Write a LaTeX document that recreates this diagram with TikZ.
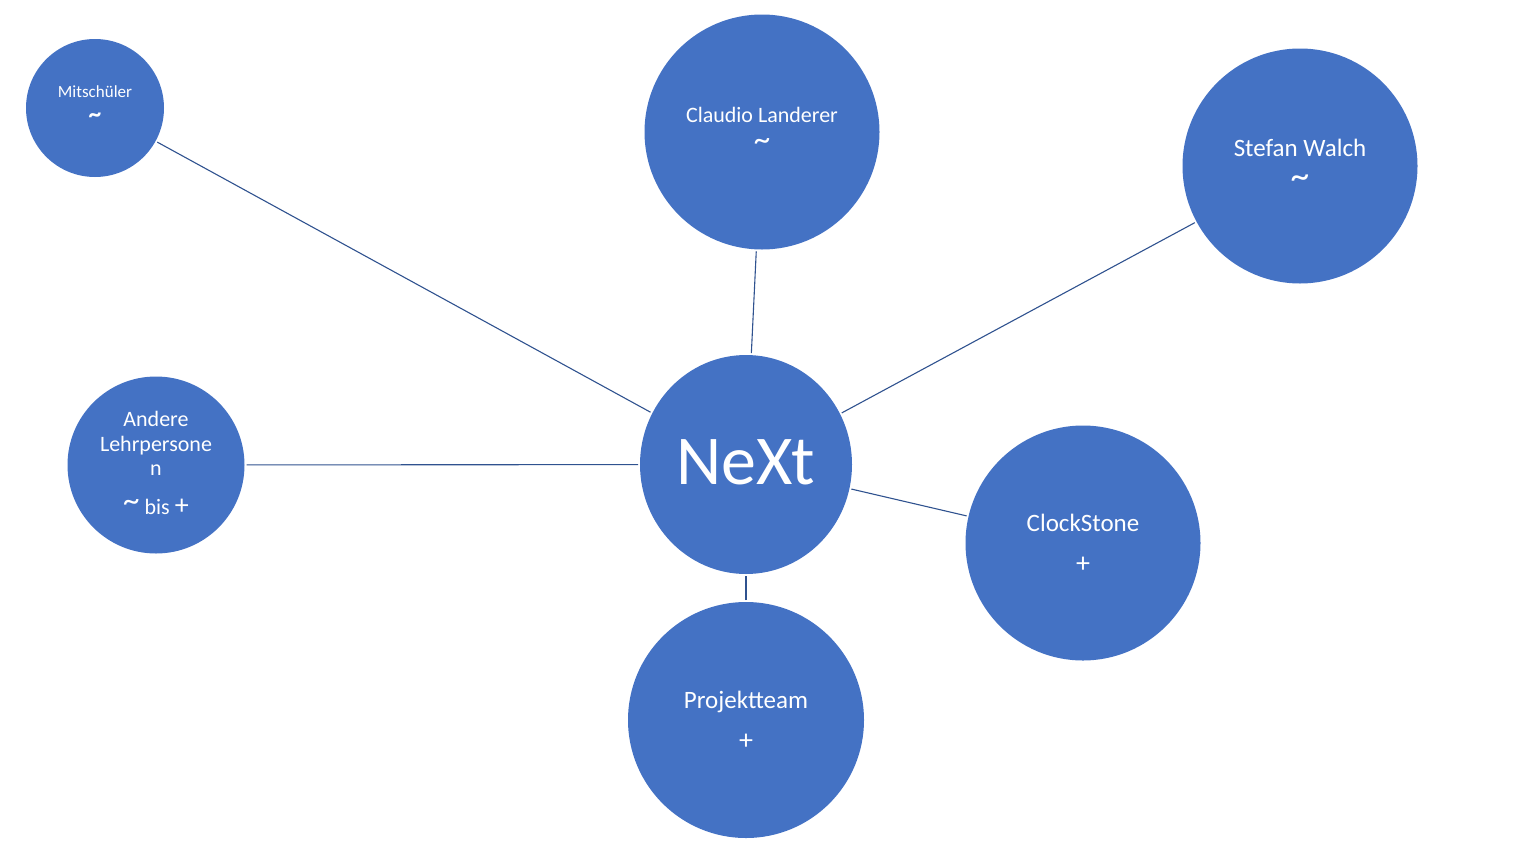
\documentclass[tikz,border=0pt]{standalone}
\usepackage{fontspec}
\setmainfont{Carlito}
\usepackage{tikz}
\usetikzlibrary{positioning,calc,shapes.geometric}
\definecolor{bubble}{HTML}{4472C4}
\definecolor{linkcol}{HTML}{2F528F}
\tikzset{
    person/.style = {
        shape=circle,
        fill=bubble,
        inner sep=0pt,
        outer sep=0pt
    },
    hub/.style = {
        shape=ellipse,
        fill=bubble,
        inner sep=0pt,
        outer sep=0pt,
        minimum width=212pt,
        minimum height=219pt
    },
    txt/.style = {
        text=white,
        align=center,
        inner sep=0pt
    },
    link/.style = {
        draw=linkcol,
        line width=1.1pt,
        shorten <=2pt,
        shorten >=2pt
    },
}
% tilde drawn bigger, as in the picture
\newcommand{\tld}{\scalebox{1.5}{\textasciitilde}}

\begin{document}
\begin{tikzpicture}[x=1pt,y=-1pt]
            \useasboundingbox (0,0) rectangle (1524,852);

            % circles
            \node[hub] (next) at (746,464.5) {};
            \node[person, minimum size=138pt] (mit) at (95,108) {};
            \node[person, minimum size=235pt] (claudio) at (762,132) {};
            \node[person, minimum size=235pt] (stefan) at (1300,166) {};
            \node[person, minimum size=177pt] (andere) at (156,465) {};
            \node[person, minimum size=235pt] (clock) at (1083,543) {};
            \node[person, minimum size=236pt] (team) at (746,720) {};

            % labels
            \node[txt, font=\fontsize{70}{84}\selectfont] (next-t) at ([yshift=2pt]next.center) {NeXt};
            \node[txt, font=\fontsize{17}{21}\selectfont] (mit-t) at ([yshift=4pt]mit.center) {Mitschüler\\[4pt]\textbf{\tld}};
            \node[txt, font=\fontsize{22}{24}\selectfont] (claudio-t) at ([yshift=3pt]claudio.center) {Claudio Landerer\\[4pt]\tld};
            \node[txt, font=\fontsize{25}{27}\selectfont] (stefan-t) at ([yshift=2.5pt]stefan.center) {Stefan Walch\\[5pt]\tld};
            \node[txt, font=\fontsize{22}{24.5}\selectfont] (andere-t) at ([yshift=2pt]andere.center) {Andere\\Lehrpersone\\n\\[14pt]\raisebox{0.15em}{\tld} bis {\fontsize{28}{30}\selectfont +}};
            \node[txt, font=\fontsize{25}{41}\selectfont] (clock-t) at (clock.center) {ClockStone\\{\fontsize{28}{30}\selectfont +}};
            \node[txt, font=\fontsize{25}{41}\selectfont] (team-t) at (team.center) {Projektteam\\{\fontsize{28}{30}\selectfont +}};

            % connectors
            \path[link] (mit) -- (next);
            \path[link] (claudio) -- (next);
            \path[link] (stefan) -- (next);
            \path[link] (andere) -- (next);
            \path[link] (clock) -- (next);
            \path[link] (team) -- (next);
        \end{tikzpicture}
\end{document}
